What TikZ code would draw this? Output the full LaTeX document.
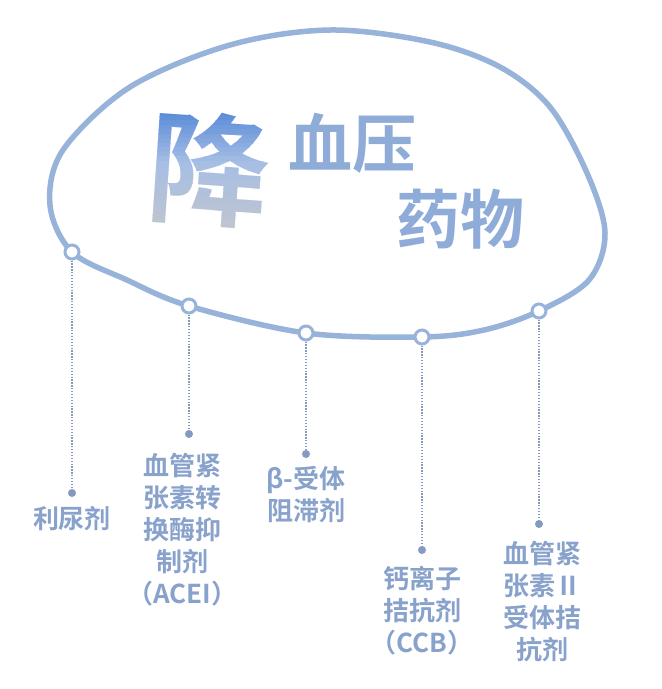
\documentclass[tikz,border=0pt]{standalone}
\usepackage{fontspec}
\setmainfont{Noto Sans CJK SC}
\newfontfamily\cjkbold{Noto Sans CJK SC Bold}
\usepackage{tikz}
\usetikzlibrary{positioning}
\definecolor{LineBlue}{RGB}{152,179,218}
\definecolor{TextBlue}{RGB}{136,162,203}
\definecolor{TitleBlue}{RGB}{143,172,216}
\definecolor{DotGray}{RGB}{132,154,192}
\definecolor{JiangTop}{RGB}{70,126,212}
\definecolor{JiangMid}{RGB}{166,190,228}
\definecolor{JiangBot}{RGB}{196,198,204}

\begin{document}
\begin{tikzpicture}[x=1pt, y=-1pt,
    curve/.style={LineBlue, line width=5.5pt},
    knot/.style={circle, draw=LineBlue, line width=3pt, fill=white, minimum size=14pt, inner sep=0},
    pin/.style={circle, fill=DotGray, minimum size=8pt, inner sep=0},
    leader/.style={DotGray, line width=1.3pt, dash pattern=on 1.3pt off 1.6pt},
    lab/.style={align=center, inner sep=0, text=TextBlue, font=\cjkbold\fontsize{26}{32}\selectfont},
    title/.style={inner sep=0, text=TitleBlue, font=\cjkbold\fontsize{64}{64}\selectfont},
    big/.style={inner sep=0, rotate=-4, font=\cjkbold\fontsize{122}{122}\selectfont}
  ]
    \useasboundingbox (0,0) rectangle (662,689);
    % outline
    \draw[curve] plot[smooth cycle, tension=0.55] coordinates {
      (330,30) (430,42) (500,67) (550,107) (587,173) (605,233) (589,280)
      (539,311) (484,330) (422,337) (306,333) (189,306) (127,280)
      (72,252) (50,205) (63,150) (130,87) (230,45)};
    % heading, the first sign painted in bands from blue to grey
    \foreach \i in {0,...,31}{
      \pgfmathsetmacro{\ytop}{98+4.5*\i}
      \pgfmathsetmacro{\ybot}{\ytop+4.7}
      \ifnum\i<14
        \pgfmathtruncatemacro{\p}{100-100*\i/14}
        \colorlet{band}{JiangTop!\p!JiangMid}
      \else
        \pgfmathtruncatemacro{\p}{100-100*(\i-14)/17}
        \colorlet{band}{JiangMid!\p!JiangBot}
      \fi
      \begin{scope}
        \clip (140,\ytop) rectangle (285,\ybot);
        \node[big, text=band] (jiang\i) at (210,170) {降};
      \end{scope}
    }
    \node[title] (xueya) at (352,143) {血压};
    \node[title] (yaowu) at (460,219) {药物};
    % points on the outline
    \node[knot] (c1) at (72,252) {};
    \node[knot] (c2) at (189,306) {};
    \node[knot] (c3) at (306,333) {};
    \node[knot] (c4) at (422,337) {};
    \node[knot] (c5) at (539,311) {};
    \node[pin] (d1) at (72,493) {};
    \node[pin] (d2) at (189,434) {};
    \node[pin] (d3) at (306,454) {};
    \node[pin] (d4) at (422,550) {};
    \node[pin] (d5) at (539,524) {};
    \foreach \i in {1,...,5}
      \draw[leader] (c\i) -- (d\i);
    % drug classes
    \node[lab, below=9pt of d1] (l1) {利尿剂};
    \node[lab, below=15pt of d2, xshift=-7pt] (l2) {血管紧\\张素转\\换酶抑\\制剂\\（ACEI）};
    \node[lab, below=8pt of d3] (l3) {β-受体\\阻滞剂};
    \node[lab, below=12pt of d4] (l4) {钙离子\\拮抗剂\\（CCB）};
    \node[lab, below=13pt of d5, xshift=3pt] (l5) {血管紧\\张素Ⅱ\\受体拮\\抗剂};
  \end{tikzpicture}
\end{document}
